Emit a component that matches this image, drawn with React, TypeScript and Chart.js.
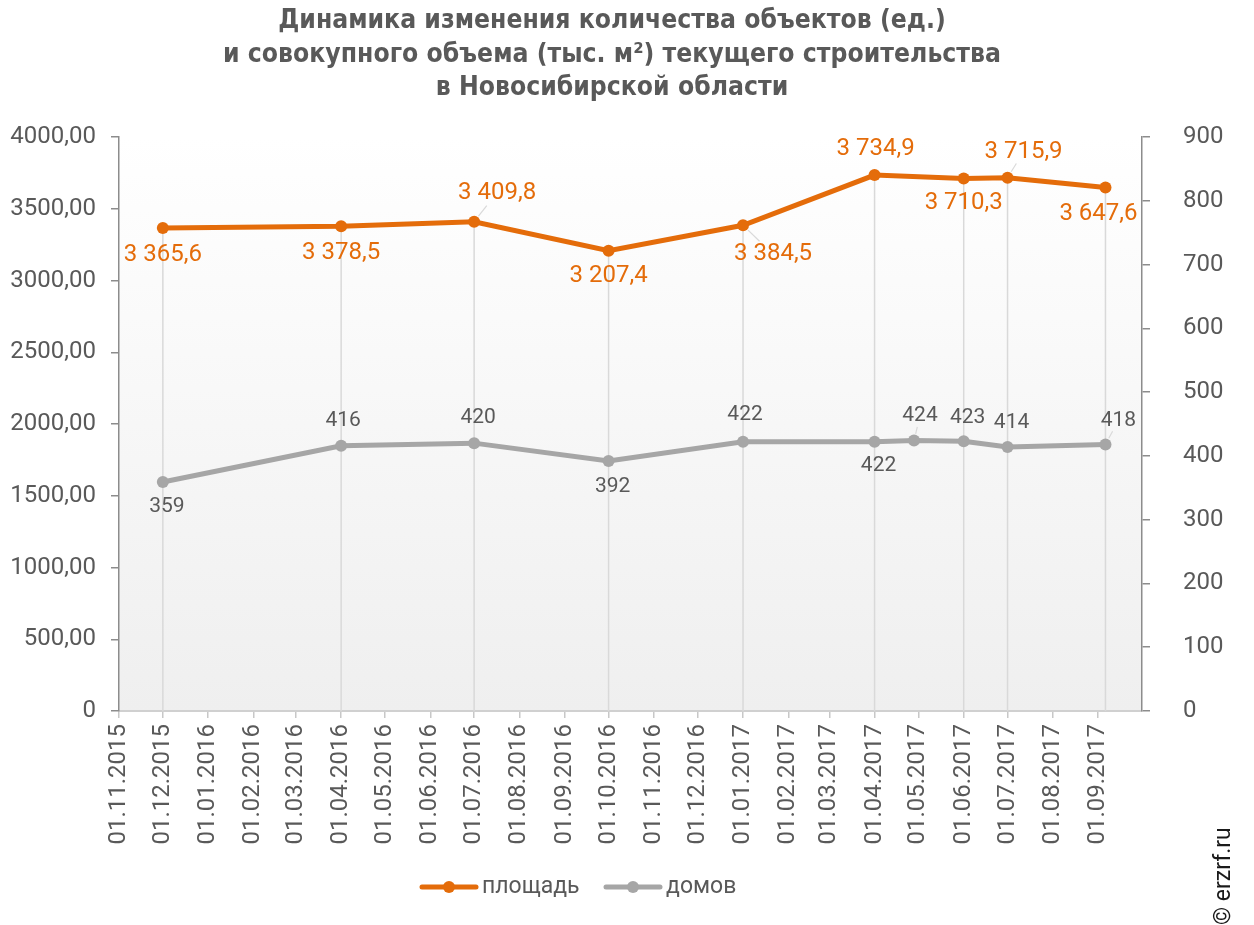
import React, { useEffect, useRef } from 'react';
import { Chart, registerables } from 'chart.js';

Chart.register(...registerables);

// ---------- data ----------
const titleLines = [
  'Динамика изменения количества объектов (ед.)',
  'и совокупного объема (тыс. м²) текущего строительства',
  'в Новосибирской области',
];

const xTickLabels = [
  '01.11.2015', '01.12.2015', '01.01.2016', '01.02.2016', '01.03.2016', '01.04.2016',
  '01.05.2016', '01.06.2016', '01.07.2016', '01.08.2016', '01.09.2016', '01.10.2016',
  '01.11.2016', '01.12.2016', '01.01.2017', '01.02.2017', '01.03.2017', '01.04.2017',
  '01.05.2017', '01.06.2017', '01.07.2017', '01.08.2017', '01.09.2017',
];
const axisEndDate = '01.10.2017';

const areaName = 'площадь';
const areaDates = [
  '01.12.2015', '01.04.2016', '01.07.2016', '01.10.2016', '01.01.2017',
  '01.04.2017', '01.06.2017', '01.07.2017', '06.09.2017',
];
const areaValues = [3365.6, 3378.5, 3409.8, 3207.4, 3384.5, 3734.9, 3710.3, 3715.9, 3647.6];

const housesName = 'домов';
const houseDates = [
  '01.12.2015', '01.04.2016', '01.07.2016', '01.10.2016', '01.01.2017',
  '01.04.2017', '28.04.2017', '01.06.2017', '01.07.2017', '06.09.2017',
];
const houseValues = [359, 416, 420, 392, 422, 422, 424, 423, 414, 418];

const leftTickLabels = ['0', '500,00', '1000,00', '1500,00', '2000,00', '2500,00', '3000,00', '3500,00', '4000,00'];
const rightTickLabels = ['0', '100', '200', '300', '400', '500', '600', '700', '800', '900'];

// label placement (offset of label centre from its point) — layout only
const areaLabelOffsets = [[0, 27], [0, 27], [23, -29], [0, 25], [30, 29], [1, -26], [0, 24], [16, -26], [-7, 26]];
const areaLeaders = [false, false, true, false, true, false, false, true, false];
const houseLabelOffsets = [[4, 25], [2, -25], [4, -25], [4, 26], [2, -27], [4, 24], [6, -25], [4, -23], [4, -24], [13, -24]];
const houseLeaders = [false, false, false, false, false, false, true, false, false, true];

// ---------- helpers ----------
const ORANGE = '#E46C0A';
const GRAY = '#A6A6A6';
const TEXT = '#595959';
const FONT = 'Roboto, "Noto Sans", sans-serif';

function dayOf(s: string): number {
  const [d, m, y] = s.split('.').map(Number);
  const base = Date.UTC(2015, 10, 1);
  return Math.round((Date.UTC(y, m - 1, d) - base) / 86400000);
}

function fmtArea(v: number): string {
  const [i, d] = v.toFixed(1).split('.');
  return i.replace(/\B(?=(\d{3})+(?!\d))/g, ' ') + ',' + d;
}

function drawLabels(ctx: CanvasRenderingContext2D, pts: any[], texts: string[], offs: number[][], leaders: boolean[], color: string, size: number) {
  ctx.font = `${size}px ${FONT}`;
  ctx.textAlign = 'center';
  ctx.textBaseline = 'middle';
  pts.forEach((p: any, i: number) => {
    const [dx, dy] = offs[i];
    const lx = p.x + dx;
    const ly = p.y + dy;
    if (leaders[i]) {
      const len = Math.hypot(dx, dy);
      const ux = dx / len, uy = dy / len;
      ctx.strokeStyle = '#d9d9d9';
      ctx.lineWidth = 1.2;
      ctx.beginPath();
      ctx.moveTo(p.x + ux * 7, p.y + uy * 7);
      ctx.lineTo(lx - ux * (len * 0.45), ly - uy * (len * 0.45));
      ctx.stroke();
    }
    ctx.fillStyle = color;
    ctx.fillText(texts[i], lx, ly);
  });
}

const decor = {
  id: 'decor',
  beforeDraw(chart: any) {
    const { ctx, chartArea: a } = chart;
    ctx.save();
    const g = ctx.createLinearGradient(0, a.top, 0, a.bottom);
    g.addColorStop(0, '#ffffff');
    g.addColorStop(1, '#efefef');
    ctx.fillStyle = g;
    ctx.fillRect(a.left, a.top, a.right - a.left, a.bottom - a.top);
    ctx.restore();
  },
  beforeDatasetsDraw(chart: any) {
    const { ctx, chartArea: a } = chart;
    const meta = chart.getDatasetMeta(0);
    ctx.save();
    ctx.strokeStyle = '#d9d9d9';
    ctx.lineWidth = 1.5;
    meta.data.forEach((p: any) => {
      ctx.beginPath();
      ctx.moveTo(p.x, p.y);
      ctx.lineTo(p.x, a.bottom);
      ctx.stroke();
    });
    ctx.restore();
  },
  afterDatasetsDraw(chart: any) {
    const { ctx } = chart;
    ctx.save();
    drawLabels(ctx, chart.getDatasetMeta(0).data, areaValues.map(fmtArea), areaLabelOffsets, areaLeaders, ORANGE, 24);
    drawLabels(ctx, chart.getDatasetMeta(1).data, houseValues.map(String), houseLabelOffsets, houseLeaders, TEXT, 21);
    ctx.restore();
  },
  afterDraw(chart: any) {
    const { ctx } = chart;
    ctx.save();
    // title
    ctx.fillStyle = TEXT;
    ctx.textAlign = 'center';
    ctx.textBaseline = 'middle';
    ctx.font = `bold 26px "Liberation Sans Narrow", "DejaVu Sans Condensed", Roboto, sans-serif`;
    const w2 = ctx.measureText(titleLines[1]).width;
    const sx = 778 / w2;
    const cx = 612;
    const ys = [21, 55, 88];
    titleLines.forEach((t, i) => {
      ctx.save();
      ctx.translate(cx, ys[i]);
      ctx.scale(sx, 1);
      ctx.fillText(t, 0, 0);
      ctx.restore();
    });
    // legend
    const ly = 887;
    const items = [
      { x: 422, color: ORANGE, text: areaName },
      { x: 606, color: GRAY, text: housesName },
    ];
    ctx.font = `23px ${FONT}`;
    ctx.textAlign = 'left';
    items.forEach((it) => {
      ctx.strokeStyle = it.color;
      ctx.lineWidth = 5;
      ctx.lineCap = 'round';
      ctx.beginPath();
      ctx.moveTo(it.x, ly);
      ctx.lineTo(it.x + 54, ly);
      ctx.stroke();
      ctx.fillStyle = it.color;
      ctx.beginPath();
      ctx.arc(it.x + 27, ly, 6, 0, Math.PI * 2);
      ctx.fill();
      ctx.fillStyle = TEXT;
      ctx.fillText(it.text, it.x + 60, ly);
    });
    // copyright
    ctx.save();
    ctx.translate(1224, 925);
    ctx.rotate(-Math.PI / 2);
    ctx.font = `23px ${FONT}`;
    ctx.fillStyle = '#1a1a1a';
    ctx.textAlign = 'left';
    ctx.textBaseline = 'middle';
    ctx.fillText('© erzrf.ru', 0, 0);
    ctx.restore();
    ctx.restore();
  },
};

export default function App() {
  const ref = useRef<HTMLCanvasElement>(null);

  useEffect(() => {
    if (!ref.current) return;
    const tickDays = xTickLabels.map(dayOf);
    const chart = new Chart(ref.current, {
      type: 'line',
      data: {
        datasets: [
          {
            label: areaName,
            data: areaDates.map((d, i) => ({ x: dayOf(d), y: areaValues[i] })),
            yAxisID: 'y',
            borderColor: ORANGE,
            backgroundColor: ORANGE,
            borderWidth: 5,
            pointRadius: 6,
            pointBorderWidth: 0,
            pointBackgroundColor: ORANGE,
            tension: 0,
            clip: false as any,
          },
          {
            label: housesName,
            data: houseDates.map((d, i) => ({ x: dayOf(d), y: houseValues[i] })),
            yAxisID: 'y1',
            borderColor: GRAY,
            backgroundColor: GRAY,
            borderWidth: 5,
            pointRadius: 6,
            pointBorderWidth: 0,
            pointBackgroundColor: GRAY,
            tension: 0,
            clip: false as any,
          },
        ],
      },
      options: {
        responsive: false,
        animation: false,
        devicePixelRatio: 1,
        layout: { padding: { top: 137, left: 0, right: 0, bottom: 0 } },
        plugins: {
          legend: { display: false },
          tooltip: { enabled: false },
          title: { display: false },
        },
        scales: {
          x: {
            type: 'linear',
            min: 0,
            max: dayOf(axisEndDate),
            afterBuildTicks: (axis: any) => {
              axis.ticks = tickDays.map((v) => ({ value: v }));
            },
            afterFit: (s: any) => { s.height = 214; },
            ticks: {
              autoSkip: false,
              minRotation: 90,
              maxRotation: 90,
              padding: 6,
              color: TEXT,
              font: { family: FONT, size: 24 },
              callback: (_v: any, i: number) => xTickLabels[i],
            },
            grid: {
              drawOnChartArea: false,
              drawTicks: true,
              tickLength: 7,
              color: '#c8c8c8',
              lineWidth: 1.5,
            },
            border: { display: true, color: '#d0d0d0', width: 2 },
          },
          y: {
            type: 'linear',
            position: 'left',
            min: 0,
            max: 4000,
            afterFit: (s: any) => { s.width = 119; },
            ticks: {
              stepSize: 500,
              padding: 15,
              color: TEXT,
              font: { family: FONT, size: 24 },
              callback: (_v: any, i: number) => leftTickLabels[i],
            },
            grid: { drawOnChartArea: false, drawTicks: true, tickLength: 8, color: '#8c8c8c', lineWidth: 1.5 },
            border: { display: true, color: '#8c8c8c', width: 1.5 },
          },
          y1: {
            type: 'linear',
            position: 'right',
            min: 0,
            max: 900,
            afterFit: (s: any) => { s.width = 112; },
            ticks: {
              stepSize: 100,
              padding: 33,
              color: TEXT,
              font: { family: FONT, size: 24 },
              callback: (_v: any, i: number) => rightTickLabels[i],
            },
            grid: { drawOnChartArea: false, drawTicks: true, tickLength: 8, color: '#8c8c8c', lineWidth: 1.5 },
            border: { display: true, color: '#8c8c8c', width: 1.5 },
          },
        },
      } as any,
      plugins: [decor],
    });
    return () => chart.destroy();
  }, []);

  return (
    <div style={{ position: 'absolute', left: 0, top: 0, width: 1254, height: 925, background: '#ffffff' }}>
      <canvas ref={ref} width={1254} height={925} style={{ display: 'block', width: 1254, height: 925 }} />
    </div>
  );
}
